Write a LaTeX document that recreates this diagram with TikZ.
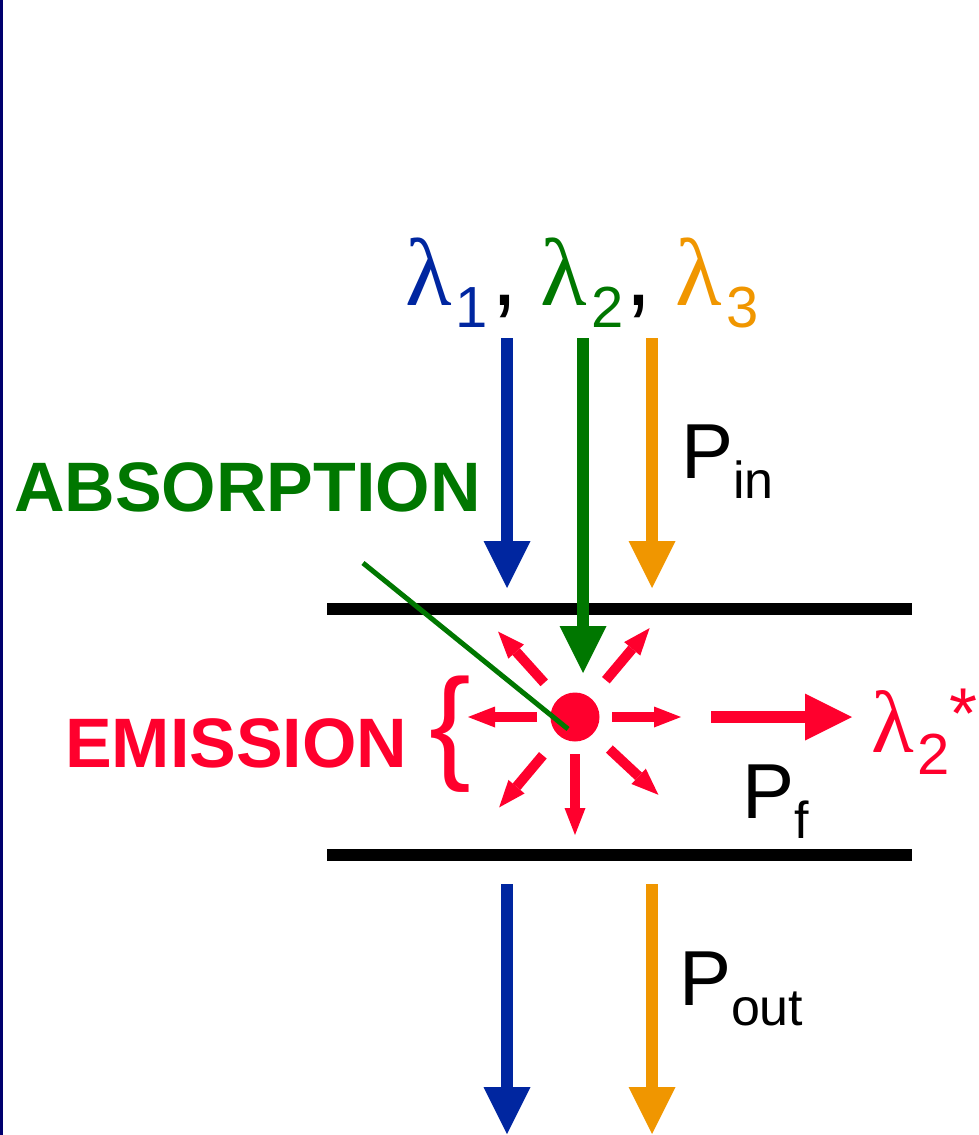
\documentclass[tikz,border=0pt]{standalone}
\usepackage{fontspec}
\setmainfont{Liberation Sans}
\newfontfamily\lamfont{Liberation Serif}
\usepackage{xcolor}
\usetikzlibrary{arrows.meta}
\definecolor{lblue}{RGB}{0,38,160}
\definecolor{lgreen}{RGB}{0,119,0}
\definecolor{lorange}{RGB}{240,150,0}
\definecolor{lred}{RGB}{255,0,45}
\definecolor{navy}{RGB}{0,0,110}
\newcommand{\lam}{{\lamfont λ}}
\newcommand{\lsub}[1]{\hspace{4pt}\raisebox{-22pt}{\fontsize{58}{60}\selectfont #1}}
\newcommand{\psub}[1]{\raisebox{-20pt}{\fontsize{52}{54}\selectfont #1}}

\begin{document}
\begin{tikzpicture}[
  x=1pt, y=-1pt,
  lbl/.style={anchor=base west, inner sep=0pt, outer sep=0pt},
  bigfont/.style={font=\fontsize{96}{98}\selectfont},
  pfont/.style={font=\fontsize{78}{80}\selectfont},
  capfont/.style={font=\fontsize{70}{72}\selectfont\bfseries},
  bigarr/.style={line width=12pt, -{Triangle[length=47pt, width=47pt, line width=0pt]}},
  smallarr/.style={line width=10pt, lred, -{Triangle[length=27pt, width=21pt, line width=0pt]}},
  plate/.style={line width=12pt, black}
]
  \useasboundingbox (0,0) rectangle (978,1135);
  \fill[navy] (0,0) rectangle (3,1135);

  % the sample between two plates
  \coordinate (tl) at (327,609);
  \coordinate (tr) at (912,609);
  \coordinate (bl) at (327,855);
  \coordinate (br) at (912,855);
  \draw[plate] (tl) -- (tr);
  \draw[plate] (bl) -- (br);

  % incoming light
  \node[lbl, bigfont] (lams) at (405,305)
    {\textcolor{lblue}{\lam\lsub{1}}\hspace{4pt},\hspace{22pt}\textcolor{lgreen}{\lam\lsub{2}}\hspace{2pt},\hspace{24pt}\textcolor{lorange}{\lam\lsub{3}}};
  \coordinate (in1) at (507,338);
  \coordinate (in2) at (583,338);
  \coordinate (in3) at (652,338);
  \coordinate (hit1) at (507,588);
  \coordinate (hit2) at (583,673);
  \coordinate (hit3) at (652,588);
  \draw[bigarr, lblue] (in1) -- (hit1);
  \draw[bigarr, lgreen] (in2) -- (hit2);
  \draw[bigarr, lorange] (in3) -- (hit3);
  \node[lbl, pfont] (pin) at (681,478) {P\psub{in}};

  % transmitted light
  \coordinate (out1) at (507,884);
  \coordinate (out3) at (652,884);
  \coordinate (end1) at (507,1134);
  \coordinate (end3) at (652,1134);
  \draw[bigarr, lblue] (out1) -- (end1);
  \draw[bigarr, lorange] (out3) -- (end3);
  \node[lbl, pfont] (pout) at (679,1005) {P\psub{out}};

  % absorbing centre and emission
  \node[circle, fill=lred, minimum size=49pt, inner sep=0pt] (dot) at (575,717) {};
  \foreach \a/\ra/\rb in {0/37/106, 180/38/107, 90/37/118, 228/46/115, 310/48/116, 130/50/118, 43/47/114}
    \draw[smallarr] ([shift={(\a:\ra)}]dot.center) -- ([shift={(\a:\rb)}]dot.center);

  \coordinate (fl0) at (711,717);
  \coordinate (fl1) at (852,717);
  \draw[bigarr, lred] (fl0) -- (fl1);
  \node[lbl, font=\fontsize{88}{90}\selectfont, lred] (lamf) at (871,752)
    {\lam\lsub{2}\raisebox{14pt}{\fontsize{72}{74}\selectfont *}};
  \node[lbl, pfont] (pf) at (742,818) {P\psub{f}};

  \node[lbl, capfont, lgreen] (abs) at (14,511) {ABSORPTION};
  \coordinate (absend) at (363,563);
  \draw[lgreen, line width=5pt] (absend) -- ([shift={(-7,12)}]dot.center);

  \node[lbl, capfont, lred] (emi) at (65,767) {EMISSION};
  \node[lbl, font=\fontsize{125}{127}\selectfont, lred] (brace) at (429,766) {\{};
\end{tikzpicture}
\end{document}
